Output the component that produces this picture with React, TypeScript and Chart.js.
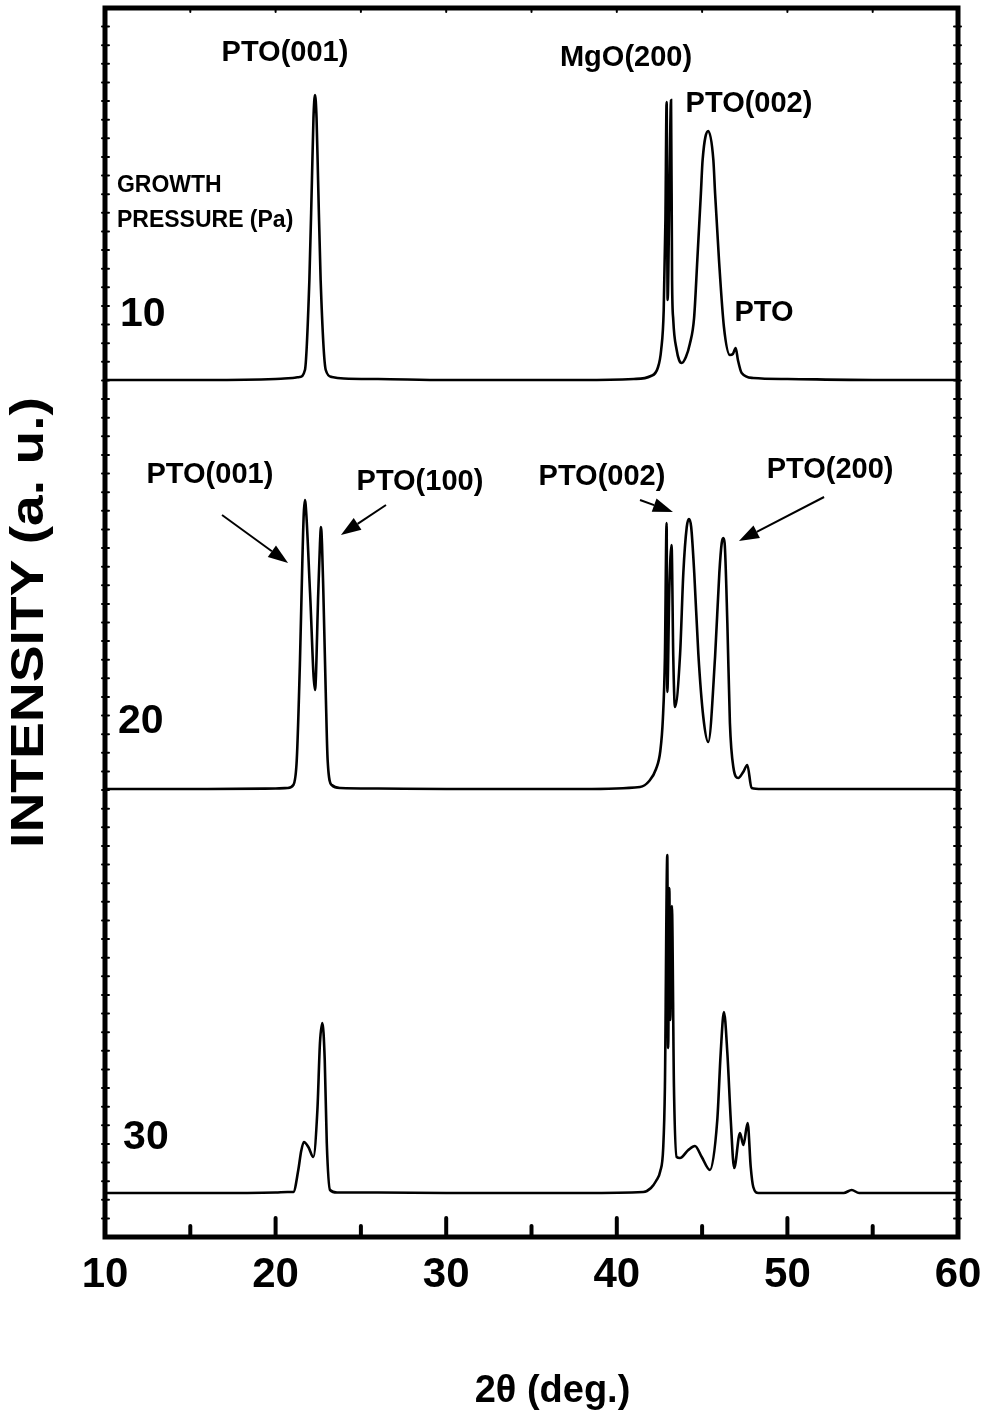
import React, { useEffect, useRef } from "react";
import { Chart, registerables } from "chart.js";

Chart.register(...registerables);

// ---- data (2θ in degrees, intensity in arbitrary units above each trace's baseline) ----
const TRACE_10_X = [10, 16, 20, 21, 21.4, 21.72, 21.98, 22.13, 22.22, 22.31, 22.4, 22.49, 22.64, 22.94, 23.3, 24, 26, 30, 38, 41, 42.0, 42.4, 42.6, 42.75, 42.85, 42.92, 42.98, 43.08, 43.18, 43.24, 43.31, 43.51, 43.65, 43.8, 44.05, 44.28, 44.53, 44.72, 44.93, 45.03, 45.36, 45.66, 45.76, 45.99, 46.28, 46.63, 46.8, 46.97, 47.1, 47.32, 47.99, 50, 55, 60];
const TRACE_10_I = [0, 0, 1, 2, 3, 10, 100, 200, 262, 285, 262, 200, 100, 10, 3, 1.5, 1, 0, 0, 1, 4, 12, 30, 70, 160, 278, 80, 185, 280, 100, 60, 30, 20, 17, 23, 36, 62, 120, 187, 220, 249, 220, 187, 120, 53, 25, 26, 32, 20, 7, 2, 1, 0, 0];

const TRACE_20_X = [10, 16, 20, 20.7, 21.04, 21.24, 21.43, 21.57, 21.65, 21.72, 21.8, 22.02, 22.31, 22.5, 22.6, 22.66, 22.72, 22.8, 22.94, 23.05, 23.29, 23.8, 26, 30, 38, 41.36, 41.9, 42.3, 42.55, 42.7, 42.82, 42.92, 42.96, 43.08, 43.21, 43.31, 43.41, 43.71, 43.9, 44.1, 44.23, 44.36, 44.54, 44.78, 45.07, 45.36, 45.76, 46.01, 46.15, 46.24, 46.32, 46.48, 46.63, 46.83, 47.12, 47.41, 47.65, 47.9, 48.5, 52, 60];
const TRACE_20_I = [0, 0, 0.5, 1, 4, 29, 129, 229, 275, 289, 275, 196, 99, 196, 245, 262, 245, 196, 96, 29, 4, 1, 0.5, 0, 0, 2, 8, 20, 38, 70, 132, 266, 97, 200, 244, 132, 82, 135, 216, 262, 270, 262, 216, 135, 72, 47, 132, 216, 246, 251, 246, 166, 66, 22, 11, 17, 24, 1, 0, 0, 0];

const TRACE_30_X = [10, 16, 20, 20.7, 21.04, 21.33, 21.5, 21.66, 21.92, 22.21, 22.45, 22.6, 22.74, 22.88, 23.0, 23.19, 23.6, 26, 30, 38, 41.55, 42.0, 42.3, 42.55, 42.72, 42.82, 42.96, 43.01, 43.08, 43.13, 43.23, 43.35, 43.51, 43.7, 44.19, 44.58, 44.98, 45.46, 45.89, 46.09, 46.28, 46.48, 46.68, 46.88, 47.22, 47.42, 47.67, 47.85, 48.0, 48.3, 50, 53.3, 53.77, 54.2, 60];
const TRACE_30_I = [0, 0, 0.5, 1, 1, 23, 42, 51, 46, 36, 83, 150, 170, 133, 50, 3, 0.5, 0.5, 0, 0, 1, 5, 12, 22, 45, 106, 338, 145, 305, 173, 287, 106, 36, 35, 43, 47, 36, 23, 73, 140, 181, 140, 73, 25, 60, 48, 70, 26, 6, 0, 0, 0, 3, 0, 0];

const BASELINE_OFFSETS = [857, 448, 44]; // stacking offsets for 10, 20, 30 Pa
const Y_MAX = 1229;
const X_MIN = 10;
const X_MAX = 60;
const X_TICK_LABELS = ["10", "20", "30", "40", "50", "60"];
const X_MAJOR_TICKS = [10, 20, 30, 40, 50, 60];
const X_MINOR_TICKS = [15, 25, 35, 45, 55];

const PEAK_LABELS = ["PTO(001)", "MgO(200)", "PTO(002)", "PTO", "PTO(001)", "PTO(100)", "PTO(002)", "PTO(200)"];
const PEAK_LABEL_X = [20.55, 40.54, 47.75, 48.63, 16.15, 28.46, 39.13, 52.5];
const PEAK_LABEL_Y = [1184, 1179, 1133, 924, 762, 755, 760, 767];

const ARROW_FROM_X = [16.86, 26.47, 41.36, 52.15];
const ARROW_FROM_Y = [722, 732, 737, 740];
const ARROW_TO_X = [20.73, 23.83, 43.29, 47.16];
const ARROW_TO_Y = [674, 702, 725, 696];

const PRESSURE_LABELS = ["10", "20", "30"];
const PRESSURE_LABEL_X = [10.88, 10.76, 11.06];
const PRESSURE_LABEL_Y = [922, 515, 99];

const HEADER_LINES = ["GROWTH", "PRESSURE (Pa)"];
const HEADER_X = 10.7;
const HEADER_Y = [1051, 1016];

const X_TITLE = "2θ (deg.)";
const Y_TITLE = "INTENSITY (a. u.)";

const FONT = '"Liberation Sans", Arial, Helvetica, sans-serif';

function toPoints(xs: number[], ys: number[], offset: number) {
  return xs.map((x, i) => ({ x, y: ys[i] + offset }));
}

const decorPlugin = {
  id: "decor",
  afterDraw(chart: any) {
    const ctx = chart.ctx as CanvasRenderingContext2D;
    const xs = chart.scales.x;
    const ys = chart.scales.y;
    const { left, right, top, bottom } = chart.chartArea;
    ctx.save();
    ctx.strokeStyle = "#000";
    ctx.fillStyle = "#000";

    // frame
    ctx.lineWidth = 5;
    ctx.strokeRect(left, top, right - left, bottom - top);

    // x ticks (inward, from bottom)
    ctx.lineWidth = 4;
    ctx.lineCap = "round";
    X_MAJOR_TICKS.forEach((v) => {
      const px = xs.getPixelForValue(v);
      ctx.beginPath();
      ctx.moveTo(px, bottom);
      ctx.lineTo(px, bottom - 19);
      ctx.stroke();
    });
    X_MINOR_TICKS.forEach((v) => {
      const px = xs.getPixelForValue(v);
      ctx.beginPath();
      ctx.moveTo(px, bottom);
      ctx.lineTo(px, bottom - 11);
      ctx.stroke();
    });
    // tiny ticks on the top edge
    ctx.lineWidth = 2;
    [...X_MAJOR_TICKS, ...X_MINOR_TICKS].forEach((v) => {
      const px = xs.getPixelForValue(v);
      ctx.beginPath();
      ctx.moveTo(px, top);
      ctx.lineTo(px, top + 4);
      ctx.stroke();
    });
    // tiny ticks on left/right edges
    for (let k = 1; k < 66; k++) {
      const py = ys.getPixelForValue((k * Y_MAX) / 66);
      ctx.beginPath();
      ctx.moveTo(left - 3, py);
      ctx.lineTo(left + 4, py);
      ctx.moveTo(right - 4, py);
      ctx.lineTo(right + 3, py);
      ctx.stroke();
    }
    ctx.lineCap = "butt";

    // x tick labels
    ctx.font = `bold 42px ${FONT}`;
    ctx.textAlign = "center";
    ctx.textBaseline = "middle";
    X_MAJOR_TICKS.forEach((v, i) => {
      ctx.fillText(X_TICK_LABELS[i], xs.getPixelForValue(v), bottom + 38);
    });

    // peak labels
    ctx.font = `bold 29px ${FONT}`;
    PEAK_LABELS.forEach((t, i) => {
      ctx.fillText(t, xs.getPixelForValue(PEAK_LABEL_X[i]), ys.getPixelForValue(PEAK_LABEL_Y[i]));
    });

    // arrows
    ARROW_FROM_X.forEach((fx, i) => {
      const x1 = xs.getPixelForValue(fx);
      const y1 = ys.getPixelForValue(ARROW_FROM_Y[i]);
      const x2 = xs.getPixelForValue(ARROW_TO_X[i]);
      const y2 = ys.getPixelForValue(ARROW_TO_Y[i]);
      const ang = Math.atan2(y2 - y1, x2 - x1);
      const hl = 20;
      const hw = 7;
      const bx = x2 - hl * Math.cos(ang);
      const by = y2 - hl * Math.sin(ang);
      ctx.lineWidth = 2;
      ctx.beginPath();
      ctx.moveTo(x1, y1);
      ctx.lineTo(bx, by);
      ctx.stroke();
      ctx.beginPath();
      ctx.moveTo(x2, y2);
      ctx.lineTo(bx + hw * Math.sin(ang), by - hw * Math.cos(ang));
      ctx.lineTo(bx - hw * Math.sin(ang), by + hw * Math.cos(ang));
      ctx.closePath();
      ctx.fill();
    });

    // growth pressure header
    ctx.textAlign = "left";
    ctx.font = `bold 23px ${FONT}`;
    HEADER_LINES.forEach((t, i) => {
      ctx.fillText(t, xs.getPixelForValue(HEADER_X), ys.getPixelForValue(HEADER_Y[i]));
    });
    ctx.font = `bold 41px ${FONT}`;
    PRESSURE_LABELS.forEach((t, i) => {
      ctx.fillText(t, xs.getPixelForValue(PRESSURE_LABEL_X[i]), ys.getPixelForValue(PRESSURE_LABEL_Y[i]));
    });

    // axis titles
    ctx.textAlign = "center";
    ctx.font = `bold 38px ${FONT}`;
    ctx.fillText(X_TITLE, (left + right) / 2 + 21, bottom + 155);
    ctx.save();
    ctx.translate(30, (top + bottom) / 2);
    ctx.rotate(-Math.PI / 2);
    ctx.scale(1.2, 1);
    ctx.font = `bold 46px ${FONT}`;
    ctx.fillText(Y_TITLE, 0, 0);
    ctx.restore();

    ctx.restore();
  },
};

export default function App() {
  const canvasRef = useRef<HTMLCanvasElement | null>(null);

  useEffect(() => {
    document.body.style.margin = "0";
    const canvas = canvasRef.current;
    if (!canvas) return;
    const series = [
      { xs: TRACE_10_X, ys: TRACE_10_I, off: BASELINE_OFFSETS[0], label: "10 Pa" },
      { xs: TRACE_20_X, ys: TRACE_20_I, off: BASELINE_OFFSETS[1], label: "20 Pa" },
      { xs: TRACE_30_X, ys: TRACE_30_I, off: BASELINE_OFFSETS[2], label: "30 Pa" },
    ];
    const chart = new Chart(canvas, {
      type: "line",
      data: {
        datasets: series.map((s) => ({
          label: s.label,
          data: toPoints(s.xs, s.ys, s.off),
          borderColor: "#000",
          borderWidth: 2.6,
          pointRadius: 0,
          fill: false,
          cubicInterpolationMode: "monotone" as const,
        })),
      },
      options: {
        responsive: false,
        animation: false,
        devicePixelRatio: 1,
        layout: { padding: { left: 105, top: 8, right: 28, bottom: 182 } },
        plugins: { legend: { display: false }, tooltip: { enabled: false } },
        scales: {
          x: { type: "linear", min: X_MIN, max: X_MAX, display: false },
          y: { type: "linear", min: 0, max: Y_MAX, display: false },
        },
      },
      plugins: [decorPlugin],
    });
    return () => chart.destroy();
  }, []);

  return <canvas ref={canvasRef} width={986} height={1419} style={{ display: "block" }} />;
}
